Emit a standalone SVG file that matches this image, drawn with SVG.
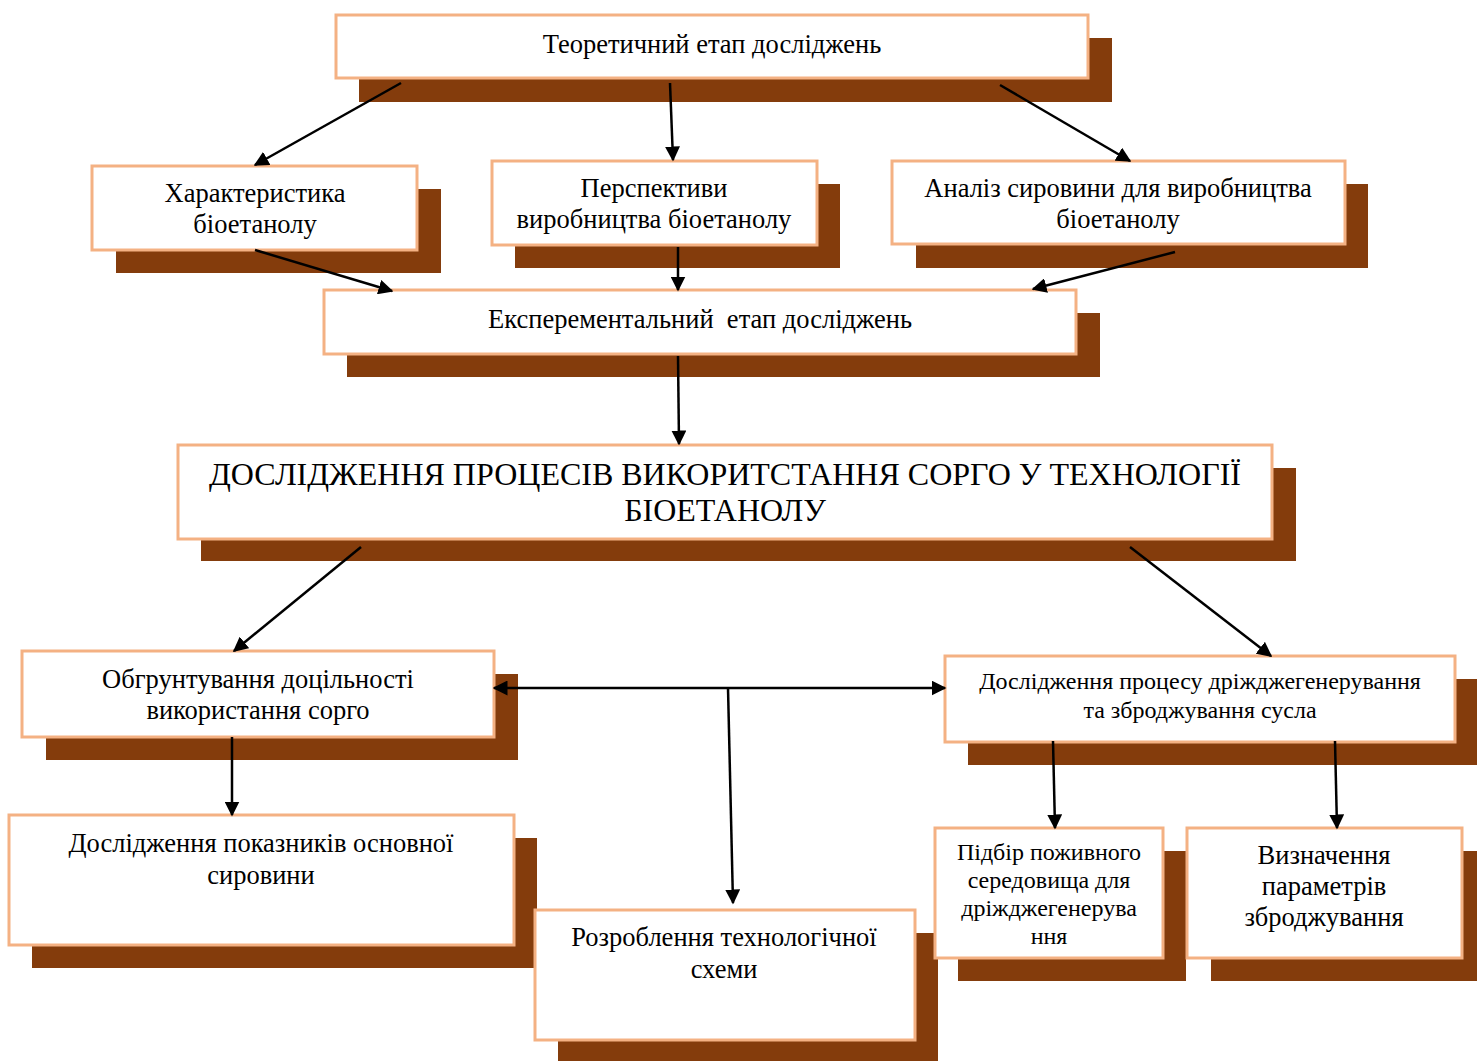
<svg xmlns="http://www.w3.org/2000/svg" width="1477" height="1061" viewBox="0 0 1477 1061">
<defs>
<style>
.sh{fill:#843C0C}
.bx{fill:#fff;stroke:#F4B183;stroke-width:3}
.t{font-family:"Liberation Serif","Times New Roman",serif;font-size:26.5px;fill:#000;text-anchor:middle}
.s{font-size:24px}
.big{font-size:32px}
.c{stroke:#000;stroke-width:2.5;fill:none}
</style>
<marker id="ah" viewBox="0 0 10 10" refX="9" refY="5" markerWidth="6" markerHeight="6" orient="auto-start-reverse" markerUnits="strokeWidth">
<path d="M0,0 L10,5 L0,10 z" fill="#000"/>
</marker>
</defs>
<rect width="1477" height="1061" fill="#fff"/>

<g id="n1"><rect class="sh" x="359" y="38" width="753" height="64"/><rect class="bx" x="336" y="15" width="752" height="63"/><text class="t" x="712" y="53">Теоретичний етап досліджень</text></g>
<g id="n2"><rect class="sh" x="116" y="189" width="325" height="84"/><rect class="bx" x="92" y="166" width="325" height="84"/><text class="t" x="255" y="202">Характеристика</text><text class="t" x="255" y="233">біоетанолу</text></g>
<g id="n3"><rect class="sh" x="515" y="184" width="325" height="84"/><rect class="bx" x="492" y="161" width="325" height="84"/><text class="t" x="654" y="197">Перспективи</text><text class="t" x="654" y="228">виробництва біоетанолу</text></g>
<g id="n4"><rect class="sh" x="916" y="184" width="452" height="84"/><rect class="bx" x="892" y="161" width="453" height="83"/><text class="t" x="1118" y="197">Аналіз сировини для виробництва</text><text class="t" x="1118" y="228">біоетанолу</text></g>
<g id="n5"><rect class="sh" x="347" y="313" width="753" height="64"/><rect class="bx" x="324" y="290" width="752" height="64"/><text class="t" x="700" y="328" xml:space="preserve">Експерементальний  етап досліджень</text></g>
<g id="n6"><rect class="sh" x="201" y="468" width="1095" height="93"/><rect class="bx" x="178" y="445" width="1094" height="94"/><text class="t big" x="725" y="485">ДОСЛІДЖЕННЯ ПРОЦЕСІВ ВИКОРИТСТАННЯ СОРГО У ТЕХНОЛОГІЇ</text><text class="t big" x="725" y="521">БІОЕТАНОЛУ</text></g>
<g id="n7"><rect class="sh" x="46" y="674" width="472" height="86"/><rect class="bx" x="22" y="651" width="472" height="86"/><text class="t" x="258" y="688">Обгрунтування доцільності</text><text class="t" x="258" y="719">використання сорго</text></g>
<g id="n8"><rect class="sh" x="968" y="679" width="509" height="86"/><rect class="bx" x="945" y="656" width="510" height="86"/><text class="t s" x="1200" y="689">Дослідження процесу дріжджегенерування</text><text class="t s" x="1200" y="718">та зброджування сусла</text></g>
<g id="n9"><rect class="sh" x="32" y="838" width="505" height="130"/><rect class="bx" x="9" y="815" width="505" height="130"/><text class="t" x="261" y="852">Дослідження показників основної</text><text class="t" x="261" y="884">сировини</text></g>
<g id="n10"><rect class="sh" x="558" y="933" width="380" height="128"/><rect class="bx" x="535" y="910" width="380" height="130"/><text class="t" x="724" y="946">Розроблення технологічної</text><text class="t" x="724" y="978">схеми</text></g>
<g id="n11"><rect class="sh" x="958" y="851" width="228" height="130"/><rect class="bx" x="935" y="828" width="228" height="130"/><text class="t s" x="1049" y="860">Підбір поживного</text><text class="t s" x="1049" y="888">середовища для</text><text class="t s" x="1049" y="916">дріжджегенерува</text><text class="t s" x="1049" y="944">ння</text></g>
<g id="n12"><rect class="sh" x="1211" y="851" width="266" height="130"/><rect class="bx" x="1187" y="828" width="275" height="130"/><text class="t" x="1324" y="864">Визначення</text><text class="t" x="1324" y="895">параметрів</text><text class="t" x="1324" y="926">зброджування</text></g>

<g id="connectors">
<line class="c" x1="401" y1="83" x2="255" y2="165" marker-end="url(#ah)"/>
<line class="c" x1="670" y1="83" x2="673" y2="160" marker-end="url(#ah)"/>
<line class="c" x1="1000" y1="85" x2="1130" y2="161" marker-end="url(#ah)"/>
<line class="c" x1="255" y1="250" x2="392" y2="291" marker-end="url(#ah)"/>
<line class="c" x1="678" y1="247" x2="678" y2="290" marker-end="url(#ah)"/>
<line class="c" x1="1175" y1="252" x2="1033" y2="289" marker-end="url(#ah)"/>
<line class="c" x1="678" y1="356" x2="679" y2="444" marker-end="url(#ah)"/>
<line class="c" x1="361" y1="547" x2="234" y2="651" marker-end="url(#ah)"/>
<line class="c" x1="1130" y1="547" x2="1271" y2="656" marker-end="url(#ah)"/>
<line class="c" x1="232" y1="737" x2="232" y2="815" marker-end="url(#ah)"/>
<line class="c" x1="494" y1="688" x2="945" y2="688" marker-start="url(#ah)" marker-end="url(#ah)"/>
<line class="c" x1="728" y1="688" x2="733" y2="903" marker-end="url(#ah)"/>
<line class="c" x1="1053" y1="741" x2="1055" y2="828" marker-end="url(#ah)"/>
<line class="c" x1="1335" y1="741" x2="1337" y2="828" marker-end="url(#ah)"/>
</g>
</svg>
